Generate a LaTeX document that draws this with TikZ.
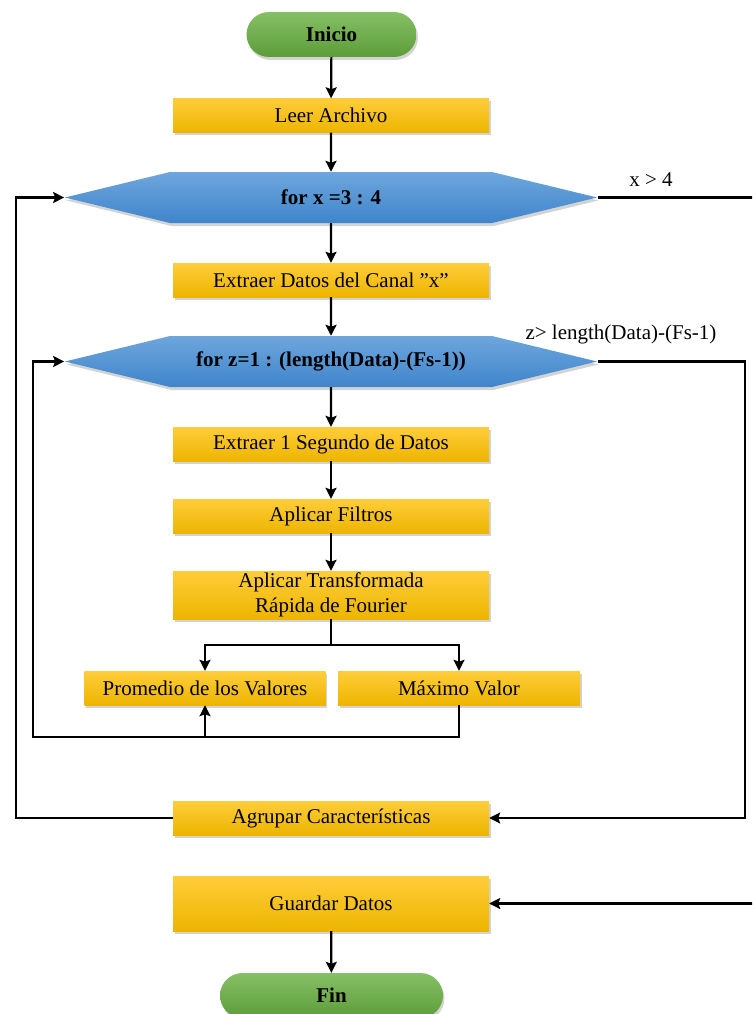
\documentclass[tikz,border=0pt]{standalone}
\usepackage{fontspec}
\setmainfont{Liberation Serif}
\usetikzlibrary{arrows.meta,shapes.misc,shapes.symbols,shadows}
\definecolor{goldtop}{HTML}{FFCD3A}
\definecolor{goldbot}{HTML}{EDB500}
\definecolor{bluetop}{HTML}{6EA6DD}
\definecolor{bluebot}{HTML}{3F85CB}
\definecolor{greentop}{HTML}{86C066}
\definecolor{greenbot}{HTML}{5C9C39}
\newcommand{\chartfont}{\fontsize{21}{25}\selectfont}
\tikzset{
	shade/.style={drop shadow={opacity=0.35, shadow xshift=1.5pt, shadow yshift=-3pt}},
	proc/.style={rectangle, shade, top color=goldtop, bottom color=goldbot, inner sep=0pt,
		minimum width=316pt, minimum height=34pt, align=center},
	term/.style={rounded rectangle, shade, top color=greentop, bottom color=greenbot,
		inner sep=0pt, minimum height=45pt, font=\chartfont\bfseries},
	forloop/.style={signal, signal to=west and east, signal pointer angle=27.3, shade,
		top color=bluetop, bottom color=bluebot, inner sep=0pt,
		minimum width=532pt, minimum height=51pt, font=\chartfont\bfseries},
	flow/.style={line width=2.2pt, -{Stealth[length=11pt, width=11pt, inset=2pt]}}
}
\begin{document}
\begin{tikzpicture}[x=1pt, y=-1pt, font=\chartfont, line join=miter]
	\path[use as bounding box, clip] (0,0) rectangle (752,1014);
	\node[term, minimum width=170pt] (ini) at (331.5,34.5) {Inicio};
	\node[proc] (leer) at (331,115.5) {Leer Archivo};
	\node[forloop] (forx) at (331,197.5) {for x =3 : 4};
	\node[proc] (canal) at (331,280) {Extraer Datos del Canal ”x”};
	\node[forloop] (forz) at (331,361.5) {for z=1 : (length(Data)-(Fs-1))};
	\node[proc] (seg) at (331,444) {Extraer 1 Segundo de Datos};
	\node[proc] (filt) at (331,516) {Aplicar Filtros};
	\node[proc, minimum height=48pt] (fft) at (331,595) {Aplicar Transformada\\Rápida de Fourier};
	\node[proc, minimum width=241pt] (prom) at (205,688) {Promedio de los Valores};
	\node[proc, minimum width=242pt] (max) at (459,688) {Máximo Valor};
	\node[proc] (agr) at (331,818) {Agrupar Características};
	\node[proc, minimum height=55pt] (guard) at (331,903.5) {Guardar Datos};
	\node[term, minimum width=223pt] (fin) at (331.5,995.5) {Fin};
	\node (gtx) at (651,180) {x > 4};
	\node (gtz) at (621,334) {z> length(Data)-(Fs-1)};
	\path
		(16,818) coordinate (lx)
		(33,737) coordinate (lz)
		(331,645) coordinate (sp)
		(770,197.5) coordinate (rx)
		(745,361.5) coordinate (rz);
	\foreach \a/\b in {ini/leer, leer/forx, forx/canal, canal/forz, forz/seg, seg/filt, filt/fft, guard/fin}
		\draw[flow] (\a) -- (\b);
	\draw[line width=2.2pt] (fft) -- (sp);
	\draw[flow] (sp) -| (prom);
	\draw[flow] (sp) -| (max);
	\draw[flow] (max) |- (lz) |- (forz.west);
	\draw[flow] (prom.south |- lz) -- (prom);
	\draw[flow] (forz.east) -- (rz) |- (agr.east);
	\draw[flow] (agr.west) -- (lx) |- (forx.west);
	\draw[flow] (forx.east) -- (rx) |- (guard.east);
\end{tikzpicture}
\end{document}
